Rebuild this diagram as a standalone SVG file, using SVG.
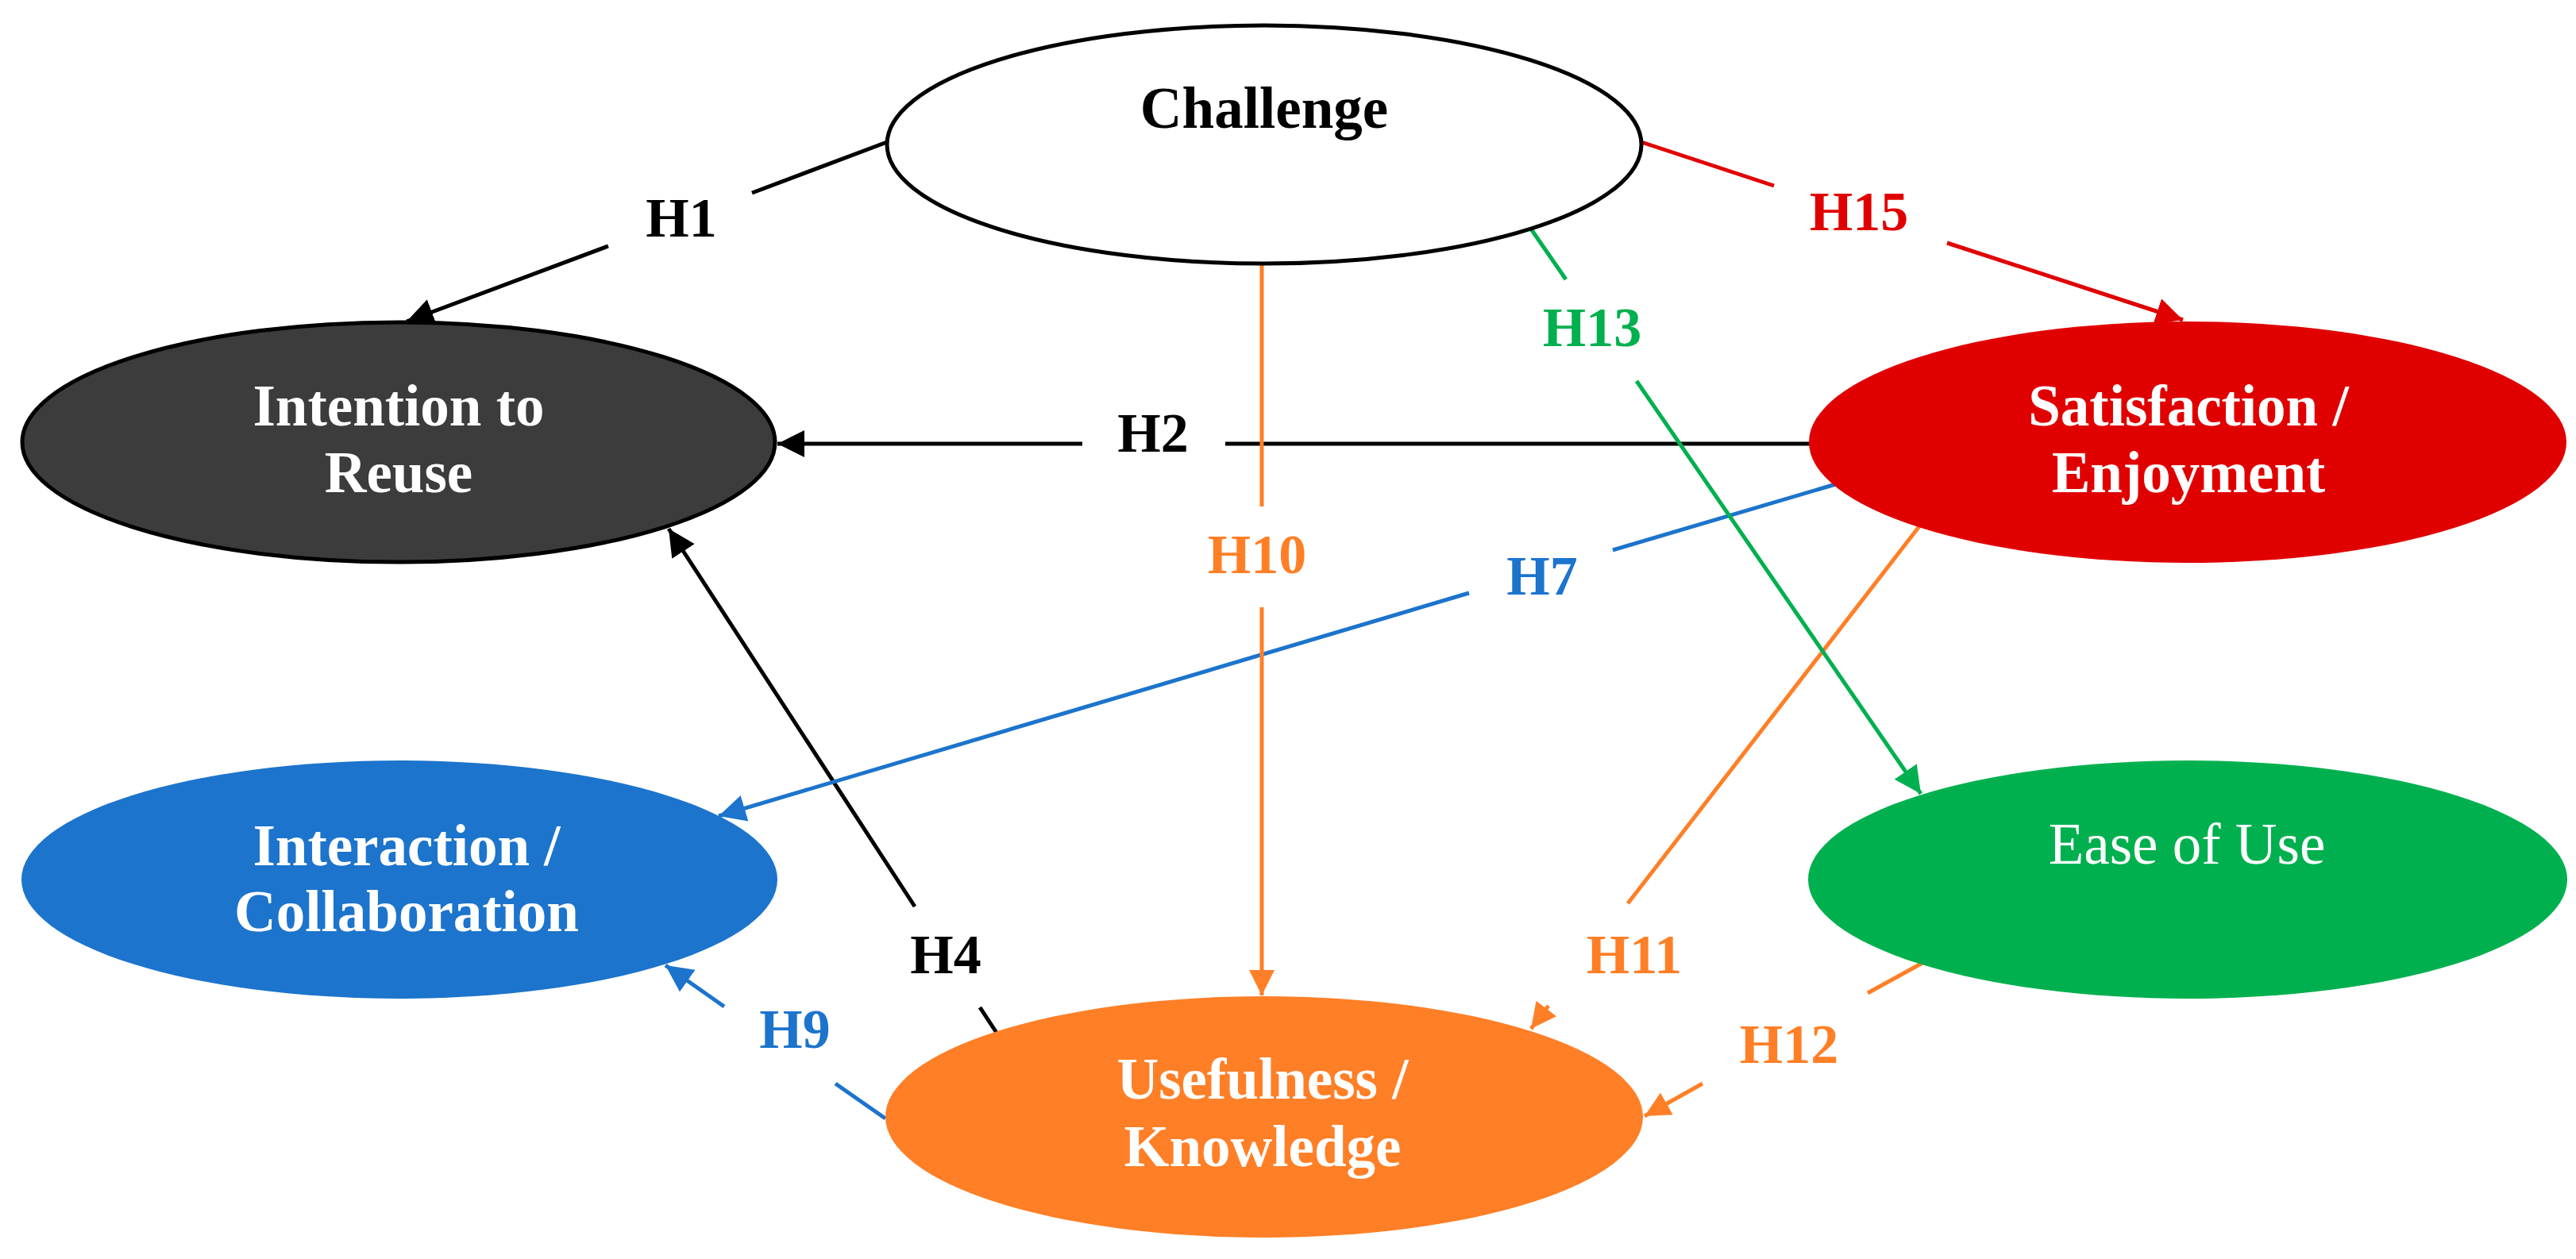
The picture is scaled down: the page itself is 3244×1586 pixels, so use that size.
<svg xmlns="http://www.w3.org/2000/svg" width="3244" height="1586" viewBox="0 0 3244 1586">
<style>
.node-t{font-family:"Liberation Serif","Times New Roman",serif;font-size:73px;font-weight:bold;text-anchor:middle;fill:#fff}
.lbl{font-family:"Liberation Serif","Times New Roman",serif;font-size:70px;font-weight:bold;text-anchor:middle}
.c{fill:none;stroke-width:5}
</style>
<defs>
<marker id="ak" viewBox="0 0 10 10" refX="10" refY="5" markerUnits="userSpaceOnUse" markerWidth="34" markerHeight="36" orient="auto"><path d="M0,0 L10,5 L0,10 z" fill="#000"/></marker>
<marker id="ar" viewBox="0 0 10 10" refX="10" refY="5" markerUnits="userSpaceOnUse" markerWidth="34" markerHeight="36" orient="auto"><path d="M0,0 L10,5 L0,10 z" fill="#E00000"/></marker>
<marker id="ag" viewBox="0 0 10 10" refX="10" refY="5" markerUnits="userSpaceOnUse" markerWidth="34" markerHeight="36" orient="auto"><path d="M0,0 L10,5 L0,10 z" fill="#00B04F"/></marker>
<marker id="ab" viewBox="0 0 10 10" refX="10" refY="5" markerUnits="userSpaceOnUse" markerWidth="34" markerHeight="36" orient="auto"><path d="M0,0 L10,5 L0,10 z" fill="#1C74CC"/></marker>
<marker id="ao" viewBox="0 0 10 10" refX="10" refY="5" markerUnits="userSpaceOnUse" markerWidth="32" markerHeight="36" orient="auto"><path d="M0,0 L10,5 L0,10 z" fill="#FF7F27"/></marker>
</defs>
<rect width="3244" height="1586" fill="#fff"/>

<g id="connectors">
<path class="c" stroke="#000" d="M1117,179 L947,243 M766,310 L512,405" marker-end="url(#ak)"/>
<path class="c" stroke="#000" d="M2279,559 L1543,559 M1363,559 L979,559" marker-end="url(#ak)"/>
<path class="c" stroke="#000" stroke-width="4.5" d="M1255,1301 L1234,1269 M1152,1142 L842,666" marker-end="url(#ak)"/>
<path class="c" stroke="#1C74CC" d="M2315,609 L2031,693 M1850,747 L905,1028" marker-end="url(#ab)"/>
<path class="c" stroke="#1C74CC" d="M1115,1409 L1052,1365 M912,1268 L838,1216" marker-end="url(#ab)"/>
<path class="c" stroke="#FF7F27" stroke-width="4.5" d="M1589,333 L1589,638 M1589,765 L1589,1254" marker-end="url(#ao)"/>
<path class="c" stroke="#FF7F27" stroke-width="4.5" d="M2417,663 L2050,1138 M1950,1267 L1928,1296" marker-end="url(#ao)"/>
<path class="c" stroke="#FF7F27" d="M2421,1213 L2352,1251 M2144,1365 L2071,1406" marker-end="url(#ao)"/>
<path class="c" stroke="#00B04F" d="M1927,287 L1972,352 M2061,480 L2419,1000" marker-end="url(#ag)"/>
<path class="c" stroke="#E00000" d="M2067,179 L2234,234 M2452,306 L2749,403" marker-end="url(#ar)"/>
</g>

<g id="labels">
<text class="lbl" x="858" y="298" fill="#000">H1</text>
<text class="lbl" x="1452" y="569" fill="#000">H2</text>
<text class="lbl" x="1191" y="1226" fill="#000">H4</text>
<text class="lbl" x="1942" y="749" fill="#1C74CC">H7</text>
<text class="lbl" x="1001" y="1320" fill="#1C74CC">H9</text>
<text class="lbl" x="1583" y="722" fill="#FF7F27">H10</text>
<text class="lbl" x="2058" y="1226" fill="#FF7F27">H11</text>
<text class="lbl" x="2253" y="1339" fill="#FF7F27">H12</text>
<text class="lbl" x="2005" y="436" fill="#00B04F">H13</text>
<text class="lbl" x="2341" y="290" fill="#E00000">H15</text>
</g>

<g id="challenge">
<ellipse cx="1592" cy="182" rx="475" ry="150" fill="#fff" stroke="#000" stroke-width="5"/>
<text class="node-t" x="1592" y="161" style="fill:#000">Challenge</text>
</g>

<g id="intention">
<ellipse cx="502" cy="557" rx="474" ry="151" fill="#3C3C3C" stroke="#000" stroke-width="5"/>
<text class="node-t" x="502" y="536">Intention to</text>
<text class="node-t" x="502" y="620">Reuse</text>
</g>

<g id="satisfaction">
<ellipse cx="2755" cy="557" rx="477" ry="152" fill="#E00000"/>
<text class="node-t" x="2756" y="536">Satisfaction /</text>
<text class="node-t" x="2756" y="620">Enjoyment</text>
</g>

<g id="interaction">
<ellipse cx="503" cy="1108" rx="476" ry="150" fill="#1C74CC"/>
<text class="node-t" x="512" y="1090">Interaction /</text>
<text class="node-t" x="512" y="1173">Collaboration</text>
</g>

<g id="ease">
<ellipse cx="2755" cy="1108" rx="478" ry="150" fill="#00B04F"/>
<text class="node-t" x="2754" y="1088" style="font-weight:normal">Ease of Use</text>
</g>

<g id="usefulness">
<ellipse cx="1592" cy="1407" rx="477" ry="152" fill="#FF7F27"/>
<text class="node-t" x="1590" y="1384">Usefulness /</text>
<text class="node-t" x="1590" y="1469">Knowledge</text>
</g>
</svg>
